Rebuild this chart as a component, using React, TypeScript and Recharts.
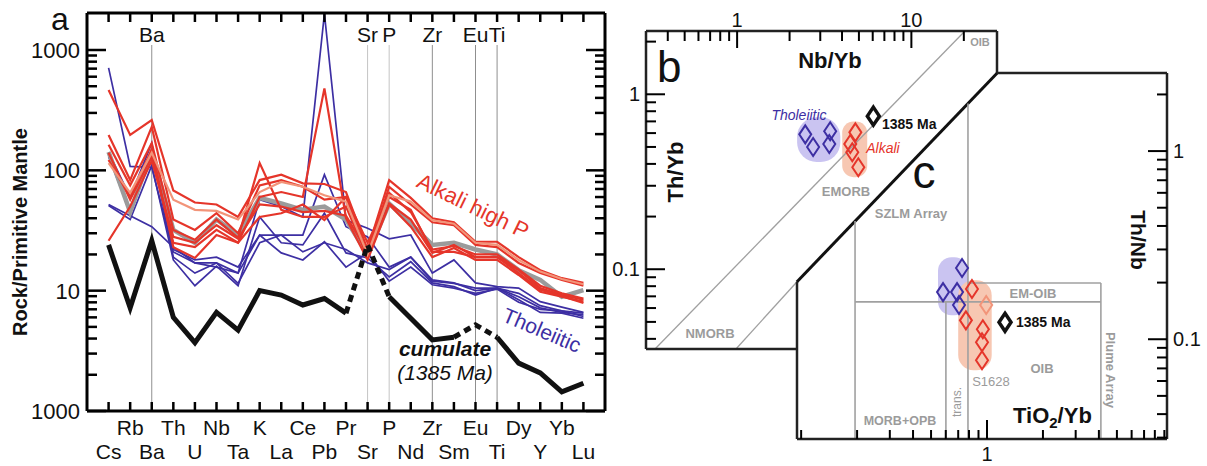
import React from 'react';
import {
  LineChart,
  Line,
  XAxis,
  YAxis,
  ReferenceLine,
  ScatterChart,
  Scatter,
  ReferenceArea,
} from 'recharts';

const FONT = '"Liberation Sans", Arial, Helvetica, sans-serif';

// ---------- Panel a: spider diagram ----------
const elements = ['Cs', 'Rb', 'Ba', 'Th', 'U', 'Nb', 'Ta', 'K', 'La', 'Ce', 'Pb', 'Pr', 'Sr', 'P', 'Nd', 'Zr', 'Sm', 'Eu', 'Ti', 'Dy', 'Y', 'Yb', 'Lu'];
const markedElements = ['Ba', 'Sr', 'P', 'Zr', 'Eu', 'Ti'];

const alkali1 = [465, 197, 262, 68, 54, 52, 41, 83, 92, 78, 77, 66, 22, 83, 59, 40, 37, 25.5, 25.5, 19, 14.8, 12.7, 11.6];
const alkali2 = [197, 83, 230, 39, 32, 44, 30, 75, 83, 73, 57, 60, 20, 73, 52, 37, 35, 24, 23, 17, 14, 12.3, 11.0];
const alkali3 = [163, 75, 168, 32, 26.5, 39, 27.5, 115, 47, 41, 41, 50, 19, 53, 39, 20.6, 24, 19, 19, 14.8, 10.5, 9.2, 8.4];
const alkali4 = [140, 57, 130, 25, 23, 32, 25, 60, 66, 60, 480, 40, 18, 52, 34, 19, 22.6, 18, 18, 13.5, 9.8, 8.9, 8.1];
const alkali5 = [122, 60, 150, 23, 18.7, 29, 25, 41, 44, 52, 38.6, 60, 25, 60, 47, 21, 21, 19, 19, 14, 10.2, 9.0, 7.9];
const alkali6 = [26, 50, 120, 28, 25, 35, 27, 52, 50, 45, 46, 42, 21, 65, 45, 22, 23.5, 20, 20, 15, 11, 9.5, 8.6];
const alkaliLight = [115, 65, 140, 57, 47, 46, 39, 66, 80, 73, 62, 55, 20, 62, 55, 38.5, 36, 25, 24, 18, 14.4, 12.5, 11.3];
const thol1 = [710, 108, 106, 21, 17, 17, 14, 57, 50, 41, 2000, 38.6, 33, 27, 29, 14, 18, 11.6, 10.8, 10.5, 8.1, 7.3, 6.6];
const thol2 = [142, 60, 168, 22, 18, 19, 15.7, 29, 29, 29, 92, 34, 28, 15.7, 19, 12.3, 11.6, 10, 10.5, 8.9, 7.2, 6.6, 6.3];
const thol3 = [51, 39, 110, 18, 11, 16, 11, 41, 25, 24, 44, 20.6, 18.7, 13, 17.4, 11.6, 10.8, 9.2, 10.5, 8.4, 6.6, 6.5, 5.9];
const thol4 = [52, 42, 34, 23, 17, 15.7, 14, 29, 20.6, 18, 25.5, 15.7, 20.6, 12, 15.7, 11.2, 10.5, 9.5, 10.3, 8.0, 7.0, 6.8, 6.1];
const thol5 = [130, 45, 150, 19, 14, 17, 11.5, 25, 29, 21, 25, 22, 17, 15, 19, 12, 11.5, 10.5, 10.5, 9.5, 7.5, 6.8, 6.5];
const average = [142, 45, 142, 32, 25, 39, 29, 59, 53, 47, 50, 39, 20, 53, 36, 24, 25, 22, 20, 14.8, 12.3, 8.9, 10.1];
const cumulate = [24, 7.2, 26, 6.0, 3.7, 6.6, 4.7, 10, 9.2, 7.6, 8.6, 6.5, 24, 8.9, 5.9, 3.9, 4.1, 5.2, 4.1, 2.5, 2.07, 1.44, 1.7];
const cumulateDashedIdx = [11, 12, 13, 16, 17, 18];
const cumulateGapIdx = [12, 17];

const yTicksA = [1, 2, 3, 4, 5, 6, 7, 8, 9, 10, 20, 30, 40, 50, 60, 70, 80, 90, 100, 200, 300, 400, 500, 600, 700, 800, 900, 1000];
const yMajorValuesA = [1, 10, 100, 1000];
const yMajorLabelsA = ['1000', '10', '100', '1000'];

const tholSeries = { thol1, thol2, thol3, thol4, thol5 };
const alkaliSeries = { alkali1, alkali2, alkali3, alkali4, alkali5, alkali6 };

const rowsA = elements.map((el, i) => {
  const row: any = { i, el };
  Object.entries(tholSeries).forEach(([k, v]) => (row[k] = v[i]));
  Object.entries(alkaliSeries).forEach(([k, v]) => (row[k] = v[i]));
  row.alkaliLight = alkaliLight[i];
  row.average = average[i];
  row.cumSolid = cumulateGapIdx.includes(i) ? null : cumulate[i];
  row.cumDashed = cumulateDashedIdx.includes(i) ? cumulate[i] : null;
  return row;
});

// ---------- Panel b: Th/Yb vs Nb/Yb ----------
const bTholeiitic = [
  { x: 2.46, y: 0.59 },
  { x: 2.73, y: 0.5 },
  { x: 3.42, y: 0.615 },
  { x: 3.38, y: 0.52 },
];
const bAlkali = [
  { x: 4.77, y: 0.606 },
  { x: 4.46, y: 0.52 },
  { x: 4.58, y: 0.466 },
  { x: 4.96, y: 0.383 },
];
const bCumulate = [{ x: 6.05, y: 0.75 }];
const bXTicks = [0.4, 0.5, 0.6, 0.7, 0.8, 0.9, 1, 2, 3, 4, 5, 6, 7, 8, 9, 10, 20];
const bYTicks = [0.04, 0.05, 0.06, 0.07, 0.08, 0.09, 0.1, 0.2, 0.3, 0.4, 0.5, 0.6, 0.7, 0.8, 0.9, 1, 2];
const bDomainX = [0.3, 31];
const bDomainY = [0.035, 2.3];
// frame of the b field (data coordinates)
const bFrame = [
  [{ x: 0.3, y: 2.3 }, { x: 31, y: 2.3 }],
  [{ x: 0.3, y: 2.3 }, { x: 0.3, y: 0.035 }],
  [{ x: 31, y: 2.3 }, { x: 31, y: 1.32 }],
  [{ x: 0.3, y: 0.035 }, { x: 2.2, y: 0.035 }],
];
const bDiagonal = [{ x: 31, y: 1.32 }, { x: 2.2, y: 0.0846 }];
const bArrayLines = [
  [{ x: 0.338, y: 0.035 }, { x: 20.3, y: 2.3 }],
  [{ x: 0.985, y: 0.035 }, { x: 2.2, y: 0.0846 }],
];
const bTholField = { x1: 2.21, x2: 3.91, y1: 0.41, y2: 0.74 };
const bAlkField = { x1: 4.01, x2: 5.58, y1: 0.336, y2: 0.7 };

// ---------- Panel c: Th/Nb vs TiO2/Yb ----------
const cTholeiitic = [
  { x: 0.734, y: 0.239 },
  { x: 0.58, y: 0.178 },
  { x: 0.69, y: 0.178 },
  { x: 0.707, y: 0.152 },
];
const cAlkali = [
  { x: 0.83, y: 0.185 },
  { x: 0.77, y: 0.126 },
  { x: 0.95, y: 0.113 },
  { x: 0.94, y: 0.0964 },
  { x: 0.94, y: 0.0773 },
];
const cAlkaliLight = [{ x: 0.99, y: 0.152 }];
const cCumulate = [{ x: 1.25, y: 0.123 }];
const cXTicks = [0.1, 0.2, 0.3, 0.4, 0.5, 0.6, 0.7, 0.8, 0.9, 1, 2, 3, 4, 5, 6, 7, 8, 9];
const cYTicks = [0.03, 0.04, 0.05, 0.06, 0.07, 0.08, 0.09, 0.1, 0.2, 0.3, 0.4, 0.5, 0.6, 0.7, 0.8, 0.9, 1, 2];
const cDomainX = [0.095, 9.3];
const cDomainY = [0.0295, 2.6];
const cFrame = [
  [{ x: 1.131, y: 2.6 }, { x: 9.3, y: 2.6 }],
  [{ x: 9.3, y: 2.6 }, { x: 9.3, y: 0.0295 }],
  [{ x: 0.095, y: 0.0295 }, { x: 9.3, y: 0.0295 }],
  [{ x: 0.095, y: 0.2016 }, { x: 0.095, y: 0.0295 }],
];
const cFieldLines = [
  [{ x: 0.195, y: 0.425 }, { x: 0.195, y: 0.0295 }],
  [{ x: 0.79, y: 1.79 }, { x: 0.79, y: 0.0295 }],
  [{ x: 0.601, y: 0.158 }, { x: 0.601, y: 0.0295 }],
  [{ x: 0.195, y: 0.158 }, { x: 4.1, y: 0.158 }],
  [{ x: 0.79, y: 0.199 }, { x: 4.1, y: 0.199 }],
  [{ x: 4.1, y: 0.199 }, { x: 4.1, y: 0.0295 }],
];
const cTholField = { x1: 0.545, x2: 0.79, y1: 0.134, y2: 0.273 };
const cAlkField = { x1: 0.7, x2: 1.06, y1: 0.0684, y2: 0.206 };

// ---------- styles ----------
const RED = '#e5352a';
const SALMON = '#f29479';
const BLUE = '#3d2fa3';
const GRAY = '#9b9b9b';
const LGRAY = '#a0a0a0';
const BLUE_FIELD = '#cac4f1';
const RED_FIELD = '#f7c7b2';

const isMajor = (v: number) => Math.abs(Math.log10(v) - Math.round(Math.log10(v))) < 1e-6;

// ---- tick renderers ----
const BottomTickA = (p: any) => {
  const i = p.payload.value;
  const odd = i % 2 === 1;
  return (
    <g>
      <line x1={p.x} x2={p.x} y1={p.y} y2={p.y - 9} stroke="#000" strokeWidth={2.5} />
      <text x={p.x} y={odd ? p.y + 23.5 : p.y + 47.5} textAnchor="middle" fontSize={21} fontFamily={FONT} fill="#111">
        {elements[i]}
      </text>
    </g>
  );
};
const TopTickA = (p: any) => {
  const i = p.payload.value;
  const el = elements[i];
  return (
    <g>
      <line x1={p.x} x2={p.x} y1={p.y} y2={p.y + 9} stroke="#000" strokeWidth={2.5} />
      {markedElements.includes(el) && (
        <text x={p.x} y={p.y + 29} textAnchor="middle" fontSize={21} fontFamily={FONT} fill="#111">
          {el}
        </text>
      )}
    </g>
  );
};
const LeftTickA = (p: any) => {
  const v = p.payload.value;
  const major = isMajor(v);
  const k = yMajorValuesA.indexOf(v);
  return (
    <g>
      <line x1={p.x} x2={p.x + (major ? 19 : 10)} y1={p.y} y2={p.y} stroke="#000" strokeWidth={2.5} />
      {k >= 0 && (
        <text x={p.x - 7} y={p.y + 8} textAnchor="end" fontSize={22} fontFamily={FONT} fill="#111">
          {yMajorLabelsA[k]}
        </text>
      )}
    </g>
  );
};
const RightTickA = (p: any) => {
  const v = p.payload.value;
  const major = isMajor(v);
  return <line x1={p.x} x2={p.x - (major ? 19 : 10)} y1={p.y} y2={p.y} stroke="#000" strokeWidth={2.5} />;
};

const fmt = (v: number) => String(v);

const BTopTick = (p: any) => {
  const v = p.payload.value;
  const major = isMajor(v);
  return (
    <g>
      <line x1={p.x} x2={p.x} y1={p.y} y2={p.y + (major ? 17 : 10)} stroke="#000" strokeWidth={2} />
      {major && (
        <text x={p.x} y={p.y - 4} textAnchor="middle" fontSize={20} fontFamily={FONT} fill="#111">
          {fmt(v)}
        </text>
      )}
    </g>
  );
};
const BLeftTick = (p: any) => {
  const v = p.payload.value;
  const major = isMajor(v);
  return (
    <g>
      <line x1={p.x} x2={p.x + (major ? 19 : 10)} y1={p.y} y2={p.y} stroke="#000" strokeWidth={2} />
      {major && (
        <text x={p.x - 6} y={p.y + 7} textAnchor="end" fontSize={20} fontFamily={FONT} fill="#111">
          {fmt(v)}
        </text>
      )}
    </g>
  );
};
const CBottomTick = (p: any) => {
  const v = p.payload.value;
  const major = v === 1;
  return (
    <g>
      <line x1={p.x} x2={p.x} y1={p.y} y2={p.y - (major ? 19 : 9)} stroke="#000" strokeWidth={2} />
      {major && (
        <text x={p.x} y={p.y + 22} textAnchor="middle" fontSize={20} fontFamily={FONT} fill="#111">
          {fmt(v)}
        </text>
      )}
    </g>
  );
};
const CRightTick = (p: any) => {
  const v = p.payload.value;
  const major = isMajor(v);
  return (
    <g>
      <line x1={p.x} x2={p.x - (major ? 19 : 10)} y1={p.y} y2={p.y} stroke="#000" strokeWidth={2} />
      {major && (
        <text x={p.x + 6} y={p.y + 7} textAnchor="start" fontSize={20} fontFamily={FONT} fill="#111">
          {fmt(v)}
        </text>
      )}
    </g>
  );
};

const diamond = (color: string, sw: number, fill: string) => (p: any) => {
  const { cx, cy } = p;
  const w = 6;
  const h = 9;
  return (
    <path
      d={`M${cx},${cy - h} L${cx + w},${cy} L${cx},${cy + h} L${cx - w},${cy} Z`}
      fill={fill}
      stroke={color}
      strokeWidth={sw}
      strokeLinejoin="miter"
    />
  );
};

const blob = (color: string) => (p: any) => (
  <rect x={p.x} y={p.y} width={p.width} height={p.height} rx={Math.min(p.width, p.height) / 2.2} fill={color} />
);

export default function App() {
  const tholKeys = Object.keys(tholSeries);
  const alkKeys = Object.keys(alkaliSeries);
  return (
    <div style={{ position: 'absolute', left: 0, top: 0, width: 1207, height: 466, background: '#fff', fontFamily: FONT }}>
      {/* Panel a */}
      <div style={{ position: 'absolute', left: 0, top: 0 }}>
        <LineChart width={1207} height={466} data={rowsA} margin={{ top: 3, right: 592, bottom: 5, left: 7 }}>
          <XAxis
            xAxisId="b"
            type="number"
            dataKey="i"
            domain={[-1, 23]}
            ticks={elements.map((_, i) => i)}
            interval={0}
            height={50}
            tickSize={0}
            tickMargin={0}
            tickLine={false}
            tick={BottomTickA}
            axisLine={{ stroke: '#000', strokeWidth: 3 }}
            allowDataOverflow
          />
          <XAxis
            xAxisId="t"
            orientation="top"
            type="number"
            dataKey="i"
            domain={[-1, 23]}
            ticks={elements.map((_, i) => i)}
            interval={0}
            height={10}
            tickSize={0}
            tickMargin={0}
            tickLine={false}
            tick={TopTickA}
            axisLine={{ stroke: '#000', strokeWidth: 3 }}
            allowDataOverflow
          />
          <YAxis
            yAxisId="l"
            type="number"
            scale="log"
            domain={[1, 2030]}
            ticks={yTicksA}
            interval={0}
            width={80}
            tickSize={0}
            tickMargin={0}
            tickLine={false}
            tick={LeftTickA}
            axisLine={{ stroke: '#000', strokeWidth: 3 }}
            allowDataOverflow
          />
          <YAxis
            yAxisId="r"
            orientation="right"
            type="number"
            scale="log"
            domain={[1, 2030]}
            ticks={yTicksA}
            interval={0}
            width={10}
            tickSize={0}
            tickMargin={0}
            tickLine={false}
            tick={RightTickA}
            axisLine={{ stroke: '#000', strokeWidth: 3 }}
            allowDataOverflow
          />
          {markedElements.map((el) => {
            const i = elements.indexOf(el);
            return (
              <ReferenceLine
                key={el}
                xAxisId="b"
                yAxisId="l"
                segment={[{ x: i, y: 1 }, { x: i, y: 1100 }]}
                stroke={el === 'Sr' || el === 'P' ? '#c4c4c4' : '#8f8f8f'}
                strokeWidth={1}
                ifOverflow="visible"
              />
            );
          })}
          {tholKeys.map((k) => (
            <Line key={k} xAxisId="b" yAxisId="l" dataKey={k} stroke={BLUE} strokeWidth={1.7} dot={false} isAnimationActive={false} />
          ))}
          <Line xAxisId="b" yAxisId="l" dataKey="average" stroke={GRAY} strokeWidth={4.5} dot={false} isAnimationActive={false} />
          {alkKeys.map((k) => (
            <Line key={k} xAxisId="b" yAxisId="l" dataKey={k} stroke={RED} strokeWidth={2.2} dot={false} isAnimationActive={false} />
          ))}
          <Line xAxisId="b" yAxisId="l" dataKey="alkaliLight" stroke={SALMON} strokeWidth={2.2} dot={false} isAnimationActive={false} />
          <Line xAxisId="b" yAxisId="l" dataKey="cumSolid" stroke="#111" strokeWidth={5} dot={false} isAnimationActive={false} connectNulls={false} />
          <Line
            xAxisId="b"
            yAxisId="l"
            dataKey="cumDashed"
            stroke="#111"
            strokeWidth={5}
            strokeDasharray="7 5"
            dot={false}
            isAnimationActive={false}
            connectNulls={false}
          />
        </LineChart>
      </div>

      {/* Panel b */}
      <div style={{ position: 'absolute', left: 0, top: 0 }}>
        <ScatterChart width={1207} height={466} margin={{ top: 1, right: 210, bottom: 117, left: 606 }}>
          <XAxis
            type="number"
            dataKey="x"
            scale="log"
            orientation="top"
            domain={bDomainX}
            ticks={bXTicks}
            interval={0}
            height={30}
            tickSize={0}
            tickMargin={0}
            tickLine={false}
            axisLine={false}
            tick={BTopTick}
            allowDataOverflow
          />
          <YAxis
            type="number"
            dataKey="y"
            scale="log"
            domain={bDomainY}
            ticks={bYTicks}
            interval={0}
            width={40}
            tickSize={0}
            tickMargin={0}
            tickLine={false}
            axisLine={false}
            tick={BLeftTick}
            allowDataOverflow
          />
          {bArrayLines.map((s, k) => (
            <ReferenceLine key={'ba' + k} segment={s} stroke={LGRAY} strokeWidth={1.3} ifOverflow="visible" />
          ))}
          {bFrame.map((s, k) => (
            <ReferenceLine key={'bf' + k} segment={s} stroke="#222" strokeWidth={2.5} ifOverflow="visible" />
          ))}
          <ReferenceLine segment={bDiagonal} stroke="#111" strokeWidth={3} ifOverflow="visible" />
          <ReferenceArea {...bTholField} ifOverflow="visible" shape={blob(BLUE_FIELD)} />
          <ReferenceArea {...bAlkField} ifOverflow="visible" shape={blob(RED_FIELD)} />
          <Scatter data={bTholeiitic} shape={diamond(BLUE, 2, 'none')} isAnimationActive={false} />
          <Scatter data={bAlkali} shape={diamond(RED, 2, 'none')} isAnimationActive={false} />
          <Scatter data={bCumulate} shape={diamond('#111', 3.5, '#fff')} isAnimationActive={false} />
        </ScatterChart>
      </div>

      {/* Panel c */}
      <div style={{ position: 'absolute', left: 0, top: 0 }}>
        <ScatterChart width={1207} height={466} margin={{ top: 73, right: 2, bottom: 7, left: 797 }}>
          <XAxis
            type="number"
            dataKey="x"
            scale="log"
            domain={cDomainX}
            ticks={cXTicks}
            interval={0}
            height={20}
            tickSize={0}
            tickMargin={0}
            tickLine={false}
            axisLine={false}
            tick={CBottomTick}
            allowDataOverflow
          />
          <YAxis
            type="number"
            dataKey="y"
            scale="log"
            orientation="right"
            domain={cDomainY}
            ticks={cYTicks}
            interval={0}
            width={38}
            tickSize={0}
            tickMargin={0}
            tickLine={false}
            axisLine={false}
            tick={CRightTick}
            allowDataOverflow
          />
          {cFieldLines.map((s, k) => (
            <ReferenceLine key={'cl' + k} segment={s} stroke={LGRAY} strokeWidth={1.6} ifOverflow="visible" />
          ))}
          {cFrame.map((s, k) => (
            <ReferenceLine key={'cf' + k} segment={s} stroke="#222" strokeWidth={2.5} ifOverflow="visible" />
          ))}
          <ReferenceArea {...cTholField} ifOverflow="visible" shape={blob(BLUE_FIELD)} />
          <ReferenceArea {...cAlkField} ifOverflow="visible" shape={blob(RED_FIELD)} />
          <Scatter data={cTholeiitic} shape={diamond(BLUE, 2, 'none')} isAnimationActive={false} />
          <Scatter data={cAlkali} shape={diamond(RED, 2, 'none')} isAnimationActive={false} />
          <Scatter data={cAlkaliLight} shape={diamond(SALMON, 2, 'none')} isAnimationActive={false} />
          <Scatter data={cCumulate} shape={diamond('#111', 3.5, '#fff')} isAnimationActive={false} />
        </ScatterChart>
      </div>

      {/* Annotations */}
      <svg width={1207} height={466} style={{ position: 'absolute', left: 0, top: 0, pointerEvents: 'none' }} fontFamily={FONT}>
        {/* panel a */}
        <text x={60} y={30} fontSize={32} textAnchor="middle" fill="#111">a</text>
        <text x={20} y={232} fontSize={20} fontWeight="bold" textAnchor="middle" dominantBaseline="central" transform="rotate(-90 20 232)" fill="#111">
          Rock/Primitive Mantle
        </text>
        <text x={473} y={206} fontSize={22} textAnchor="middle" dominantBaseline="central" transform="rotate(26 473 206)" fill={RED}>
          Alkali high P
        </text>
        <text x={542} y={330} fontSize={21} textAnchor="middle" dominantBaseline="central" transform="rotate(23 542 330)" fill={BLUE}>
          Tholeiitic
        </text>
        <text x={445} y={356} fontSize={21} textAnchor="middle" fontWeight="bold" fontStyle="italic" fill="#111">cumulate</text>
        <text x={445} y={380} fontSize={21} textAnchor="middle" fontStyle="italic" fill="#111">(1385 Ma)</text>

        {/* panel b */}
        <text x={657} y={82} fontSize={44} fill="#111">b</text>
        <text x={830} y={68} fontSize={22} fontWeight="bold" textAnchor="middle" fill="#111">Nb/Yb</text>
        <text x={675} y={172} fontSize={22} fontWeight="bold" textAnchor="middle" dominantBaseline="central" transform="rotate(-90 675 172)" fill="#111">
          Th/Yb
        </text>
        <text x={799} y={120} fontSize={14} fontStyle="italic" textAnchor="middle" fill={BLUE}>Tholeiitic</text>
        <text x={883} y={153} fontSize={14} fontStyle="italic" textAnchor="middle" fill={RED}>Alkali</text>
        <text x={882} y={129} fontSize={14} fontWeight="bold" fill="#111">1385 Ma</text>
        <text x={846} y={196} fontSize={13} fontWeight="bold" textAnchor="middle" fill={GRAY}>EMORB</text>
        <text x={710} y={338} fontSize={13} fontWeight="bold" textAnchor="middle" fill={GRAY}>NMORB</text>
        <text x={980} y={46} fontSize={11} fontWeight="bold" textAnchor="middle" fill={GRAY}>OIB</text>
        <text x={911} y={218} fontSize={13} fontWeight="bold" textAnchor="middle" fill={GRAY}>SZLM Array</text>

        {/* panel c */}
        <text x={924} y={188} fontSize={46} textAnchor="middle" fill="#111">c</text>
        <text x={1033} y={298} fontSize={13} fontWeight="bold" textAnchor="middle" fill={GRAY}>EM-OIB</text>
        <text x={1042} y={373} fontSize={13} fontWeight="bold" textAnchor="middle" fill={GRAY}>OIB</text>
        <text x={991} y={386} fontSize={13} textAnchor="middle" fill={GRAY}>S1628</text>
        <text x={900} y={425} fontSize={12.5} fontWeight="bold" textAnchor="middle" fill={GRAY}>MORB+OPB</text>
        <text x={957} y={402} fontSize={12} textAnchor="middle" dominantBaseline="central" transform="rotate(-90 957 402)" fill={GRAY}>trans.</text>
        <text x={1110} y={370} fontSize={13} fontWeight="bold" textAnchor="middle" dominantBaseline="central" transform="rotate(90 1110 370)" fill={GRAY}>
          Plume Array
        </text>
        <text x={1016} y={327} fontSize={14} fontWeight="bold" fill="#111">1385 Ma</text>
        <text x={1013} y={423} fontSize={22} fontWeight="bold" fill="#111">
          TiO<tspan dy={5} fontSize={15}>2</tspan>
          <tspan dy={-5}>/Yb</tspan>
        </text>
        <text x={1138} y={240} fontSize={21} fontWeight="bold" textAnchor="middle" dominantBaseline="central" transform="rotate(90 1138 240)" fill="#111">
          Th/Nb
        </text>
      </svg>
    </div>
  );
}
